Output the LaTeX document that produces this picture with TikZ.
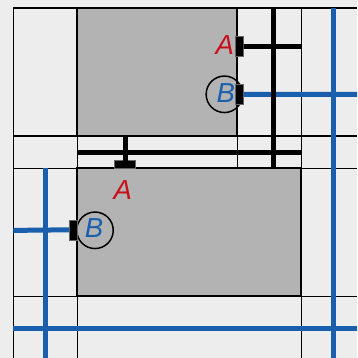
\documentclass[tikz,border=0pt]{standalone}
\usepackage{fontspec}
\setmainfont{Liberation Sans}
\definecolor{bgc}{HTML}{EDEDED}
\definecolor{cellc}{HTML}{B3B3B3}
\definecolor{wireblue}{HTML}{1A5FAD}
\definecolor{labelred}{HTML}{C8101A}
\tikzset{
  grid line/.style={draw=black,line width=1.4pt},
  block/.style={draw=black,line width=2pt,line join=miter},
  black wire/.style={draw=black,line width=4.8pt},
  blue wire/.style={draw=wireblue,line width=5pt},
  pin/.style={fill=black,draw=black!60,line width=.6pt,inner sep=0pt,outer sep=0pt,minimum width=#1},
  bubble/.style={draw=black,line width=1.5pt,circle,minimum size=36.5pt,inner sep=0pt},
  redlabel/.style={text=labelred,font=\fontsize{27.5}{27.5}\selectfont\itshape,inner sep=0pt},
  bluelabel/.style={text=wireblue,font=\fontsize{27.5}{27.5}\selectfont\itshape,inner sep=0pt}
}
\begin{document}
\begin{tikzpicture}[x=1pt,y=-1pt]
\useasboundingbox[fill=bgc] (0,0) rectangle (357,358);
% grid ends
\coordinate (h1l) at (13.3,8.2);   \coordinate (h1r) at (357,8.2);
\coordinate (h2l) at (13.3,136.2); \coordinate (h2r) at (357,136.2);
\coordinate (h3l) at (13.3,168.2); \coordinate (h3r) at (357,168.2);
\coordinate (h4l) at (13.3,296.2); \coordinate (h4r) at (357,296.2);
\coordinate (v1t) at (13.3,8.2);   \coordinate (v1b) at (13.3,358);
\coordinate (v2t) at (77.3,8.2);   \coordinate (v2b) at (77.3,358);
\coordinate (v3t) at (237.3,8.2);  \coordinate (v3b) at (237.3,168.2);
\coordinate (v4t) at (301.3,8.2);  \coordinate (v4b) at (301.3,358);
% grey cells
\path[fill=cellc] (77.3,8.2) rectangle (237.3,136.2);
\path[fill=cellc] (77.3,168.2) rectangle (301.3,296.2);
% thin grid
\foreach \n in {1,2,3,4} {
  \draw[grid line] (h\n l) -- (h\n r);
  \draw[grid line] (v\n t) -- (v\n b);
}
\draw[block] (77.3,8.2) rectangle (237.3,136.2);
\draw[block] (77.3,168.2) rectangle (301.3,296.2);
% pins
\node[bubble] (bubbleTop) at (224.4,94.3) {};
\node[bubble] (bubbleLow) at (95,230.3) {};
\node[pin=8.6pt,minimum height=20pt] (pinAtop) at (239.4,46.4) {};
\node[pin=8.6pt,minimum height=20pt] (pinBtop) at (239.4,94.4) {};
\node[pin=8.6pt,minimum height=20pt] (pinBlow) at (73.4,229.8) {};
\node[pin=20.5pt,minimum height=8.4pt] (pinAlow) at (124.8,164) {};
% wire ends
\coordinate (a1) at (301.3,46.6);
\coordinate (b1) at (357,94.3);
\coordinate (b2) at (13.3,230.4);
\coordinate (a2) at (125.7,136.2);
\coordinate (a3) at (125.7,164);
\coordinate (t1t) at (273.5,8.2);  \coordinate (t1b) at (273.5,168.2);
\coordinate (t2l) at (77.3,152.5); \coordinate (t2r) at (301.3,152.5);
\coordinate (u1t) at (333.6,8.2);  \coordinate (u1b) at (333.6,358);
\coordinate (u2t) at (45.5,168.2); \coordinate (u2b) at (45.5,358);
\coordinate (u3l) at (13.3,328.3); \coordinate (u3r) at (357,328.3);
% blue wires
\draw[blue wire] (u1t) -- (u1b);
\draw[blue wire] (u2t) -- (u2b);
\draw[blue wire] (u3l) -- (u3r);
\draw[blue wire] (pinBtop.east) -- (b1);
\draw[blue wire] (pinBlow.west) -- (b2);
% black wires
\draw[black wire] (t1t) -- (t1b);
\draw[black wire] (t2l) -- (t2r);
\draw[black wire] (pinAtop.east) -- (a1);
\draw[black wire] (a3) -- (a2);
% labels
\node[redlabel] (labelAtop) at (224.8,45.3) {A};
\node[bluelabel] (labelBtop) at (225.8,93.3) {B};
\node[redlabel] (labelAlow) at (122.8,189.8) {A};
\node[bluelabel] (labelBlow) at (94,227.8) {B};
\end{tikzpicture}
\end{document}
